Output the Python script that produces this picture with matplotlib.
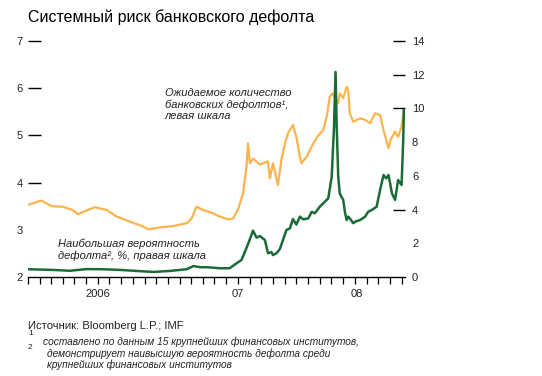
import numpy as np
import pandas as pd
import matplotlib
matplotlib.use('Agg')
import matplotlib.pyplot as plt
import matplotlib.dates as mdates
from matplotlib.ticker import FixedLocator, FixedFormatter, NullFormatter

plt.rcParams['font.family'] = ['Liberation Sans', 'DejaVu Sans']

# expected number of bank defaults, left scale
exp_dates = ['2006-01-01', '2006-02-05', '2006-03-03', '2006-04-01', '2006-04-27', '2006-05-11',
             '2006-06-03', '2006-06-24', '2006-07-25', '2006-08-20', '2006-09-24', '2006-10-28',
             '2006-11-10', '2006-12-11', '2007-01-15', '2007-02-18', '2007-03-03', '2007-03-16',
             '2007-04-02', '2007-04-28', '2007-05-07', '2007-06-02', '2007-06-10', '2007-06-19',
             '2007-07-02', '2007-07-15', '2007-07-24', '2007-07-28', '2007-08-02', '2007-08-10',
             '2007-08-28', '2007-09-05', '2007-09-18', '2007-09-23', '2007-10-01', '2007-10-14',
             '2007-10-23', '2007-11-01', '2007-11-09', '2007-11-22', '2007-12-01', '2007-12-10',
             '2007-12-14', '2007-12-28', '2008-01-14', '2008-01-27', '2008-02-09', '2008-02-18',
             '2008-02-26', '2008-03-04', '2008-03-19', '2008-03-23', '2008-04-01', '2008-04-10',
             '2008-04-14', '2008-04-18', '2008-04-27', '2008-05-15', '2008-05-28', '2008-06-10',
             '2008-06-23', '2008-07-06', '2008-07-15', '2008-07-28', '2008-08-02', '2008-08-14',
             '2008-08-22', '2008-08-31', '2008-09-06']
exp_defaults = [3.53, 3.62, 3.50, 3.49, 3.42, 3.33,
                3.41, 3.48, 3.42, 3.28, 3.17, 3.07,
                3.01, 3.05, 3.08, 3.14, 3.24, 3.49,
                3.42, 3.35, 3.31, 3.23, 3.22, 3.24,
                3.43, 3.77, 4.34, 4.83, 4.41, 4.51,
                4.38, 4.41, 4.45, 4.09, 4.41, 3.95,
                4.48, 4.83, 5.04, 5.22, 4.97, 4.55,
                4.41, 4.55, 4.83, 5.00, 5.11, 5.40,
                5.82, 5.89, 5.68, 5.89, 5.79, 6.03,
                5.96, 5.47, 5.29, 5.36, 5.33, 5.26,
                5.47, 5.43, 5.11, 4.73, 4.90, 5.08,
                4.97, 5.19, 5.56]

# highest probability of default, %, right scale
prob_dates = ['2006-01-01', '2006-03-07', '2006-04-20', '2006-06-03', '2006-07-15', '2006-08-29',
              '2006-10-11', '2006-11-23', '2007-01-06', '2007-02-18', '2007-03-08', '2007-03-25',
              '2007-04-12', '2007-05-16', '2007-06-10', '2007-06-28', '2007-07-11', '2007-07-24',
              '2007-08-02', '2007-08-10', '2007-08-19', '2007-08-28', '2007-09-10', '2007-09-18',
              '2007-09-27', '2007-10-01', '2007-10-10', '2007-10-19', '2007-10-27', '2007-11-05',
              '2007-11-14', '2007-11-22', '2007-12-01', '2007-12-10', '2007-12-19', '2008-01-01',
              '2008-01-10', '2008-01-18', '2008-01-31', '2008-02-09', '2008-02-22', '2008-03-02',
              '2008-03-08', '2008-03-12', '2008-03-15', '2008-03-19', '2008-03-23', '2008-04-01',
              '2008-04-06', '2008-04-10', '2008-04-14', '2008-04-18', '2008-04-27', '2008-05-02',
              '2008-05-15', '2008-05-28', '2008-06-05', '2008-06-14', '2008-06-27', '2008-07-06',
              '2008-07-15', '2008-07-22', '2008-07-28', '2008-08-06', '2008-08-14', '2008-08-22',
              '2008-08-31', '2008-09-04', '2008-09-06']
max_prob = [0.46, 0.42, 0.37, 0.47, 0.46, 0.42,
            0.36, 0.30, 0.36, 0.46, 0.65, 0.58,
            0.58, 0.52, 0.52, 0.81, 1.01, 1.72,
            2.25, 2.75, 2.34, 2.43, 2.19, 1.41,
            1.48, 1.30, 1.41, 1.66, 2.19, 2.79,
            2.88, 3.44, 3.11, 3.58, 3.42, 3.48,
            3.87, 3.78, 4.17, 4.37, 4.67, 5.95,
            8.91, 12.16, 8.91, 5.95, 4.96, 4.57,
            3.78, 3.38, 3.58, 3.48, 3.19, 3.28,
            3.38, 3.58, 3.87, 3.97, 4.17, 5.16,
            6.05, 5.85, 6.05, 4.96, 4.57, 5.75,
            5.46, 7.95, 9.90]

left_ticks = [2, 3, 4, 5, 6, 7]
right_ticks = [0, 2, 4, 6, 8, 10, 12, 14]
year_labels = ['2006', '07', '08']

orange = '#F9B54C'
green = '#1B6B38'
txt = '#222222'

fig = plt.figure(figsize=(5.42, 3.76), dpi=100)
ax = fig.add_axes([0.0517, 0.2633, 0.6956, 0.6277])
ax2 = ax.twinx()

ax.plot(pd.to_datetime(exp_dates), exp_defaults, color=orange, lw=1.6, zorder=2)
ax2.plot(pd.to_datetime(prob_dates), max_prob, color=green, lw=1.8, zorder=3)

start = pd.Timestamp('2006-01-01')
end = pd.Timestamp('2008-09-09')
ax.set_xlim(start, end)
ax.set_ylim(2, 7)
ax2.set_ylim(0, 14)

for a in (ax, ax2):
    for s in ('top', 'left', 'right'):
        a.spines[s].set_visible(False)
ax2.spines['bottom'].set_visible(False)
ax.spines['bottom'].set_linewidth(1.0)
ax.spines['bottom'].set_color('black')

# x: monthly ticks, year labels centred on each year's span
ax.xaxis.set_major_locator(mdates.MonthLocator())
ax.xaxis.set_major_formatter(NullFormatter())
ax.tick_params(axis='x', which='major', direction='out', length=5, width=0.9, color='black')
centers = [mdates.date2num(pd.Timestamp('2006-07-02')),
           mdates.date2num(pd.Timestamp('2007-07-02')),
           (mdates.date2num(pd.Timestamp('2008-01-01')) + mdates.date2num(end)) / 2]
ax.xaxis.set_minor_locator(FixedLocator(centers))
ax.xaxis.set_minor_formatter(FixedFormatter(year_labels))
ax.tick_params(axis='x', which='minor', length=0, pad=9, labelsize=8, labelcolor=txt)

ax.set_yticks(left_ticks)
ax.set_yticklabels([str(t) for t in left_ticks])
ax.tick_params(axis='y', direction='in', length=9, width=1, color='black',
               labelsize=8, labelcolor=txt, pad=4)
for t, v in zip(ax.yaxis.get_major_ticks(), left_ticks):
    if v in (2, 3):
        t.tick1line.set_visible(False)

ax2.set_yticks(right_ticks)
ax2.set_yticklabels([str(t) for t in right_ticks])
ax2.tick_params(axis='y', direction='in', length=9, width=1, color='black',
                labelsize=8, labelcolor=txt, pad=5)
for t, v in zip(ax2.yaxis.get_major_ticks(), right_ticks):
    if v in (0, 2, 6, 8):
        t.tick2line.set_visible(False)

fig.text(0.0517, 0.955, 'Системный риск банковского дефолта', fontsize=11.5, color='black',
         va='center', ha='left')

ax.text(0.362, 0.80, 'Ожидаемое количество\nбанковских дефолтов\u00b9,\nлевая шкала',
        transform=ax.transAxes, fontsize=8, style='italic', color=txt, va='top', ha='left',
        linespacing=1.15)
ax.text(0.08, 0.165, 'Наибольшая вероятность\nдефолта\u00b2, %, правая шкала',
        transform=ax.transAxes, fontsize=8, style='italic', color=txt, va='top', ha='left',
        linespacing=1.2)

fig.text(0.0517, 0.133, 'Источник: Bloomberg L.P.; IMF', fontsize=8.1, color=txt, va='center')
fig.text(0.0517, 0.112, '1', fontsize=6, color=txt, va='center')
fig.text(0.0517, 0.077, '2', fontsize=6, color=txt, va='center')
fig.text(0.080, 0.090, 'составлено по данным 15 крупнейших финансовых институтов,',
         fontsize=7.3, style='italic', color=txt, va='center')
fig.text(0.086, 0.059, 'демонстрирует наивысшую вероятность дефолта среди',
         fontsize=7.3, style='italic', color=txt, va='center')
fig.text(0.086, 0.029, 'крупнейших финансовых институтов',
         fontsize=7.3, style='italic', color=txt, va='center')

fig.savefig('out.png', dpi=100, facecolor='white')
